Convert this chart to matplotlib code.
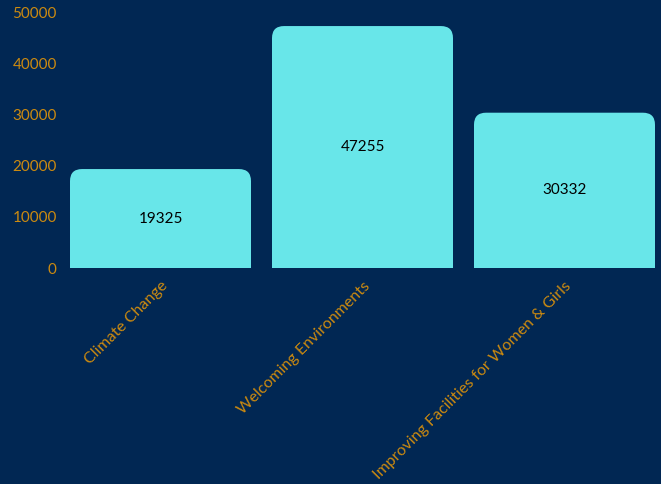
import matplotlib
matplotlib.use('Agg')
import matplotlib.pyplot as plt
from matplotlib.patches import FancyBboxPatch

categories = ['Climate Change', 'Welcoming Environments', 'Improving Facilities for Women & Girls']
values = [19325, 47255, 30332]
yticks = [0, 10000, 20000, 30000, 40000, 50000]

bg = '#012753'
bar_color = '#68E6E9'
text_color = '#CC8A10'

plt.rcParams['font.family'] = ['Lato', 'DejaVu Sans']

fig = plt.figure(figsize=(6.61, 4.84), dpi=100, facecolor=bg)
W, H = 661, 484
ax = fig.add_axes([59.5 / W, 1 - 268 / H, (W - 59.5) / W, (268 - 12) / H])
ax.set_facecolor(bg)

x = list(range(len(categories)))
width = 181 / 202
xmax = -0.5 + (W - 59.5) / 202
ax.set_xlim(-0.5, xmax)
ax.set_ylim(0, 50000)

# rounded top corners: radius in pixels converted to data units
r_px = 12
x_per_px = (xmax + 0.5) / (W - 59.5)
y_per_px = 50000 / 256
rx = r_px * x_per_px
ry = r_px * y_per_px

bars = ax.bar(x, [v - ry for v in values], width=width, color=bar_color, linewidth=0)
for b, v in zip(bars, values):
    ax.add_patch(FancyBboxPatch((b.get_x(), 0), b.get_width(), v,
                                boxstyle=f'round,pad=0,rounding_size={rx}',
                                mutation_aspect=y_per_px / x_per_px,
                                facecolor=bar_color, edgecolor='none'))
    ax.text(b.get_x() + b.get_width() / 2, v / 2, str(v), ha='center', va='center',
            color='black', fontsize=11)

ax.set_yticks(yticks)
ax.set_yticklabels([str(t) for t in yticks])
ax.set_xticks(x)
ax.set_xticklabels(categories, rotation=45, ha='right', rotation_mode='anchor')
ax.tick_params(axis='both', length=0, colors=text_color, labelsize=11)
ax.tick_params(axis='x', labelsize=11.5, pad=8)
ax.tick_params(axis='y', pad=2)
for s in ax.spines.values():
    s.set_visible(False)

fig.savefig('out.png', facecolor=bg)
